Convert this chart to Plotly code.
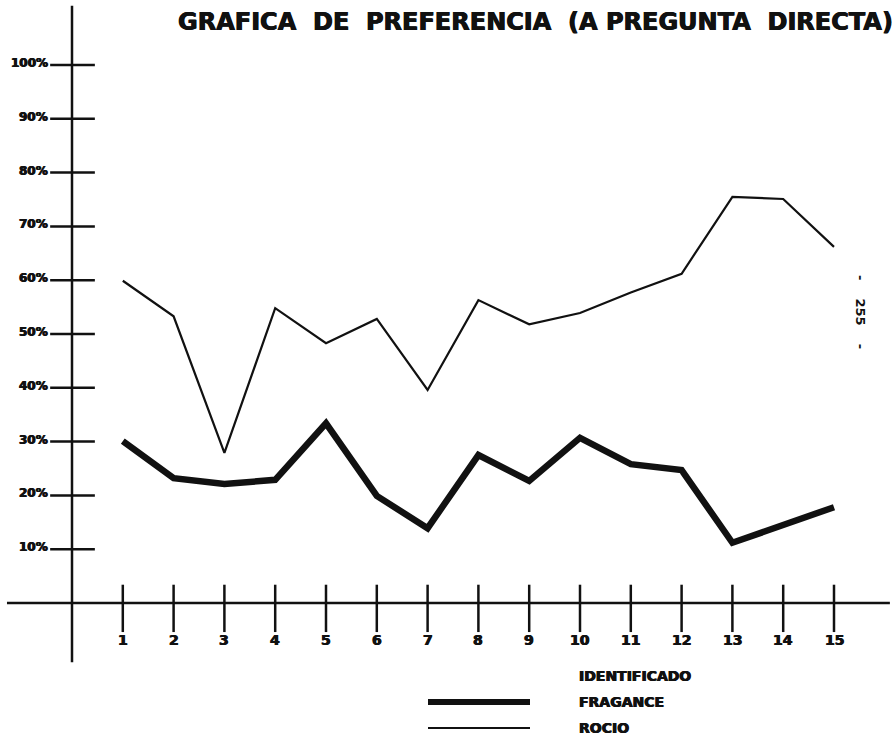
import plotly.graph_objects as go

# ---- data ----
categories = list(range(1, 16))
fragance = [30.1, 23.2, 22.1, 22.9, 33.4, 19.9, 13.9, 27.5, 22.7, 30.7, 25.8, 24.7, 11.2, 14.5, 17.8]
rocio = [59.9, 53.3, 27.9, 54.8, 48.3, 52.8, 39.6, 56.3, 51.8, 53.9, 57.7, 61.2, 75.5, 75.1, 66.2]
y_ticks = [10, 20, 30, 40, 50, 60, 70, 80, 90, 100]
y_tick_labels = ["10%", "20%", "30%", "40%", "50%", "60%", "70%", "80%", "90%", "100%"]
title_text = "GRAFICA  DE  PREFERENCIA  (A PREGUNTA  DIRECTA)"
legend_title = "IDENTIFICADO"
series_names = ["FRAGANCE", "ROCIO"]
page_note = "-    255    -"

W, H = 892, 739
FONT = "DejaVu Sans"
INK = "#111111"
HEAVY = "0.5px 0 0 #111111, -0.5px 0 0 #111111"

fig = go.Figure()
fig.add_trace(go.Scatter(x=categories, y=rocio, mode="lines", name=series_names[1],
                         line=dict(color=INK, width=2.2), showlegend=False))
fig.add_trace(go.Scatter(x=categories, y=fragance, mode="lines", name=series_names[0],
                         line=dict(color=INK, width=6.5), showlegend=False))

shapes = []
# main axes (hand-drawn cross)
shapes.append(dict(type="line", xref="x", yref="y", x0=0, x1=0, y0=-11, y1=111,
                   line=dict(color=INK, width=2.5)))
shapes.append(dict(type="line", xref="x", yref="y", x0=-1.28, x1=16.1, y0=0, y1=0,
                   line=dict(color=INK, width=2.5)))
# y tick marks
for v in y_ticks:
    shapes.append(dict(type="line", xref="x", yref="y", x0=-0.43, x1=0.45, y0=v, y1=v,
                       line=dict(color=INK, width=2.5)))
# x tick marks
for c in categories:
    shapes.append(dict(type="line", xref="x", yref="y", x0=c, x1=c, y0=3.4, y1=-5.4,
                       line=dict(color=INK, width=2.5)))
# legend swatches
shapes.append(dict(type="line", xref="paper", yref="paper", x0=428 / W, x1=530 / W,
                   y0=1 - 702 / H, y1=1 - 702 / H, line=dict(color=INK, width=6)))
shapes.append(dict(type="line", xref="paper", yref="paper", x0=428 / W, x1=530 / W,
                   y0=1 - 728 / H, y1=1 - 728 / H, line=dict(color=INK, width=2)))

annotations = []
for v, lab in zip(y_ticks, y_tick_labels):
    annotations.append(dict(x=-0.43, y=v, xref="x", yref="y", text=lab, showarrow=False,
                            xanchor="right", yanchor="bottom", yshift=-7,
                            font=dict(family=FONT, size=12, color=INK, weight="bold", shadow=HEAVY)))
for c in categories:
    annotations.append(dict(x=c, y=-5.4, xref="x", yref="y", text=str(c), showarrow=False,
                            xanchor="center", yanchor="top", yshift=2,
                            font=dict(family=FONT, size=14, color=INK, weight="bold", shadow=HEAVY)))
annotations.append(dict(x=535 / W, y=1 - 22 / H, xref="paper", yref="paper", text=title_text,
                        showarrow=False, xanchor="center", yanchor="middle",
                        font=dict(family=FONT, size=24, color=INK, weight="bold", shadow=HEAVY)))
for txt, ypx in [(legend_title, 676), (series_names[0], 702), (series_names[1], 728)]:
    annotations.append(dict(x=577 / W, y=1 - ypx / H, xref="paper", yref="paper", text=txt,
                            showarrow=False, xanchor="left", yanchor="middle",
                            font=dict(family=FONT, size=14, color=INK, weight="bold", shadow=HEAVY)))
annotations.append(dict(x=861 / W, y=1 - 312 / H, xref="paper", yref="paper", text=page_note,
                        showarrow=False, xanchor="center", yanchor="middle", textangle=90,
                        font=dict(family=FONT, size=13, color=INK, weight="bold")))

fig.update_layout(
    width=W, height=H, autosize=False,
    margin=dict(l=0, r=0, t=0, b=0, pad=0),
    paper_bgcolor="white", plot_bgcolor="white",
    xaxis=dict(range=[-72 / 50.8, (W - 72) / 50.8], visible=False, fixedrange=True),
    yaxis=dict(range=[-(H - 603) / 5.38, 603 / 5.38], visible=False, fixedrange=True),
    shapes=shapes, annotations=annotations, showlegend=False,
)

fig.write_html("out.html", config={"displayModeBar": False},
               post_script="document.body.style.margin='0';document.body.style.overflow='hidden';")
